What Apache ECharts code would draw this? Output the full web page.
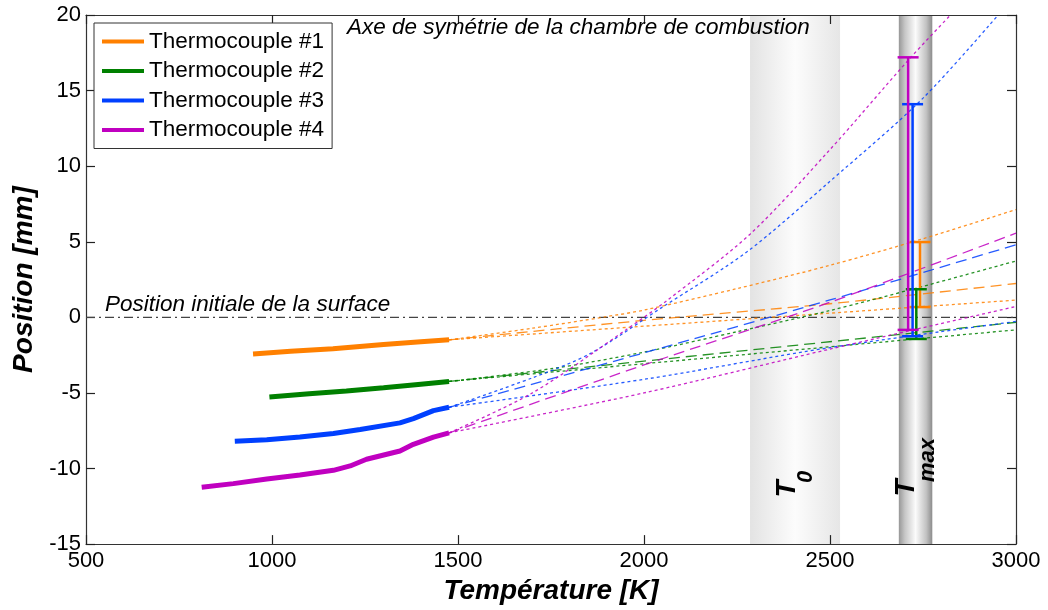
<!DOCTYPE html>
<html>
<head>
<meta charset="utf-8">
<script src="https://cdn.jsdelivr.net/npm/echarts@6/dist/echarts.min.js"></script>
<style>html,body{margin:0;padding:0;background:#fff}#chart{width:1048px;height:610px}</style>
</head>
<body>
<div id="chart"></div>
<script>
var names = ['Thermocouple #1', 'Thermocouple #2', 'Thermocouple #3', 'Thermocouple #4'];
var colors = ['#ff8000', '#008000', '#0040ff', '#c000c0'];

// mesures [T (K), position (mm)]
var tc1 = [[949,-2.42],[1050,-2.25],[1164,-2.08],[1300,-1.8],[1400,-1.62],[1476,-1.49]];
var tc2 = [[993,-5.27],[1100,-5.05],[1200,-4.88],[1300,-4.66],[1400,-4.42],[1476,-4.24]];
var tc3 = [[900,-8.2],[986,-8.1],[1075,-7.92],[1165,-7.68],[1237,-7.42],[1344,-6.98],[1380,-6.7],[1434,-6.17],[1476,-5.95]];
var tc4 = [[811,-11.24],[896,-11.0],[986,-10.7],[1075,-10.43],[1165,-10.12],[1210,-9.83],[1254,-9.39],[1344,-8.84],[1380,-8.4],[1434,-7.92],[1476,-7.64]];

// extrapolations : haut (pointillé), milieu (tirets), bas (pointillé)
var fit1 = [
  [[1476,-1.49],[1700,-0.72],[1900,0.05],[2000,0.48],[2250,1.9],[2500,3.44],[2750,5.2],[3000,7.13]],
  [[1476,-1.49],[2000,-0.2],[2500,0.9],[3000,2.24]],
  [[1476,-1.49],[3000,1.14]]
];
var fit2 = [
  [[1476,-4.24],[1750,-3.4],[2000,-2.3],[2250,-0.95],[2500,0.45],[2750,2.05],[3000,3.73]],
  [[1476,-4.24],[3000,-0.33]],
  [[1476,-4.24],[3000,-0.83]]
];
var fit3 = [
  [[1476,-5.95],[1700,-4.0],[1855,-2.4],[2051,0.7],[2276,4.32],[2500,9.0],[2750,14.5],[2952,20]],
  [[1476,-5.95],[2000,-2.35],[2500,1.15],[3000,4.8]],
  [[1476,-5.95],[2000,-4.1],[2500,-2.0],[3000,-0.27]]
];
var fit4 = [
  [[1476,-7.64],[1700,-5.0],[1953,-0.8],[2061,1.1],[2285,5.5],[2500,11.1],[2710,17.0],[2824,20]],
  [[1476,-7.64],[2000,-3.15],[2500,1.0],[3000,5.57]],
  [[1476,-7.64],[2000,-5.0],[2500,-2.1],[3000,0.72]]
];

// barres d'erreur à Tmax [T, bas, haut]
var errBars = [[2742,0.68,4.98],[2732,-1.43,1.86],[2722,-1.25,14.1],[2710,-0.83,17.2]];
// bandes T0 et Tmax [début, fin]
var bands = [[2285,2527],[2685,2775]];
var zeroLine = [[500,0],[3000,0]];

var chart = echarts.init(document.getElementById('chart'));
var font = 'Liberation Sans, Arial, sans-serif';

var bandFills = [
  new echarts.graphic.LinearGradient(0,0,1,0,[{offset:0,color:'#e3e3e3'},{offset:0.5,color:'#fcfcfc'},{offset:1,color:'#e6e6e6'}]),
  new echarts.graphic.LinearGradient(0,0,1,0,[{offset:0,color:'#979797'},{offset:0.18,color:'#c6c6c6'},{offset:0.5,color:'#fbfbfb'},{offset:0.82,color:'#c2c2c2'},{offset:1,color:'#8c8c8c'}])
];

var series = [];
series.push({
  type:'custom', z:0, silent:true,
  data: bands.map(function(b,i){ return [b[0], b[1], i]; }),
  renderItem: function(params, api){
    var a = api.coord([api.value(0), 0]), b = api.coord([api.value(1), 0]);
    var cs = params.coordSys;
    return {type:'rect', shape:{x:a[0], y:cs.y, width:b[0]-a[0], height:cs.height},
      style:{fill: bandFills[api.value(2)]}};
  }
});
series.push({
  type:'line', z:1, silent:true, data: zeroLine, showSymbol:false,
  lineStyle:{color:'#444', width:1.2, type:[9,4,2,4]}
});

var fits = [fit1, fit2, fit3, fit4];
fits.forEach(function(f, i){
  var dashes = [[3,3],[11,6],[3,3]];
  f.forEach(function(d, j){
    series.push({
      name:'fit'+i+'_'+j, type:'line', z:2, data:d, showSymbol:false, silent:true,
      smooth: d.length > 2 ? 0.3 : false,
      lineStyle:{color:colors[i], width:1.3, type:dashes[j], opacity:0.85}
    });
  });
});

[tc1, tc2, tc3, tc4].forEach(function(d, i){
  series.push({
    name:names[i], type:'line', z:3, data:d, showSymbol:false,
    itemStyle:{color:colors[i]},
    lineStyle:{color:colors[i], width:5}
  });
});

series.push({
  type:'custom', z:4, silent:true,
  data: errBars.map(function(e,i){ return [e[0], e[1], e[2], i]; }),
  encode:{x:0, y:[1,2]},
  renderItem: function(params, api){
    var x = api.value(0);
    var lo = api.coord([x, api.value(1)]), hi = api.coord([x, api.value(2)]);
    var st = {stroke: colors[api.value(3)], lineWidth:2.5};
    var w = 10.5;
    return {type:'group', children:[
      {type:'line', shape:{x1:lo[0],y1:lo[1],x2:hi[0],y2:hi[1]}, style:st},
      {type:'line', shape:{x1:lo[0]-w,y1:lo[1],x2:lo[0]+w,y2:lo[1]}, style:st},
      {type:'line', shape:{x1:hi[0]-w,y1:hi[1],x2:hi[0]+w,y2:hi[1]}, style:st}
    ]};
  }
});

var axisLine = {show:true, onZero:false, lineStyle:{color:'#333', width:1.2}};
var tick = {show:true, inside:true, length:9, lineStyle:{color:'#222', width:1.2}};
var plain = function(v){ return String(v); };

option = {
  backgroundColor:'#fff',
  animation:false,
  grid:{left:86, right:32, top:15, bottom:63, containLabel:false},
  legend:{
    data:names, left:94, top:23, orient:'vertical',
    icon:'rect', itemWidth:42, itemHeight:4, itemGap:6.5,
    padding:[7,8,7,8], borderColor:'#333', borderWidth:1, backgroundColor:'#fff',
    textStyle:{fontFamily:font, fontSize:22.5, color:'#000', lineHeight:22}
  },
  xAxis:[{
    type:'value', min:500, max:3000, interval:500,
    name:'Température [K]', nameLocation:'middle', nameGap:27,
    nameTextStyle:{fontFamily:font, fontSize:28, fontWeight:'bold', fontStyle:'italic', color:'#000'},
    axisLine:axisLine, axisTick:tick, splitLine:{show:false},
    axisLabel:{fontFamily:font, fontSize:22, color:'#000', margin:6, formatter:plain}
  },{
    type:'value', position:'top', min:500, max:3000, interval:500,
    axisLine:axisLine, axisTick:tick, splitLine:{show:false}, axisLabel:{show:false}
  }],
  yAxis:[{
    type:'value', min:-15, max:20, interval:5,
    name:'Position [mm]', nameLocation:'middle', nameGap:39,
    nameTextStyle:{fontFamily:font, fontSize:28, fontWeight:'bold', fontStyle:'italic', color:'#000'},
    axisLine:axisLine, axisTick:tick, splitLine:{show:false},
    axisLabel:{fontFamily:font, fontSize:22, color:'#000', margin:5, formatter:plain}
  },{
    type:'value', position:'right', min:-15, max:20, interval:5,
    axisLine:axisLine, axisTick:tick, splitLine:{show:false}, axisLabel:{show:false}
  }],
  graphic:[
    {type:'text', x:347, y:28, z:10, style:{text:'Axe de symétrie de la chambre de combustion', fontFamily:font, fontSize:22.5, fontStyle:'italic', fill:'#000', verticalAlign:'middle'}},
    {type:'text', x:105, y:305, z:10, style:{text:'Position initiale de la surface', fontFamily:font, fontSize:22.5, fontStyle:'italic', fill:'#000', verticalAlign:'middle'}},
    {type:'text', x:787, y:489, rotation:Math.PI/2, z:10, style:{text:'T', fontFamily:font, fontSize:28, fontWeight:'bold', fontStyle:'italic', fill:'#000', align:'center', verticalAlign:'middle'}},
    {type:'text', x:806, y:477, rotation:Math.PI/2, z:10, style:{text:'0', fontFamily:font, fontSize:22, fontWeight:'bold', fontStyle:'italic', fill:'#000', align:'center', verticalAlign:'middle'}},
    {type:'text', x:906, y:488, rotation:Math.PI/2, z:10, style:{text:'T', fontFamily:font, fontSize:28, fontWeight:'bold', fontStyle:'italic', fill:'#000', align:'center', verticalAlign:'middle'}},
    {type:'text', x:928, y:460, rotation:Math.PI/2, z:10, style:{text:'max', fontFamily:font, fontSize:22, fontWeight:'bold', fontStyle:'italic', fill:'#000', align:'center', verticalAlign:'middle'}}
  ],
  series:series
};
chart.setOption(option, true);
</script>
</body>
</html>
